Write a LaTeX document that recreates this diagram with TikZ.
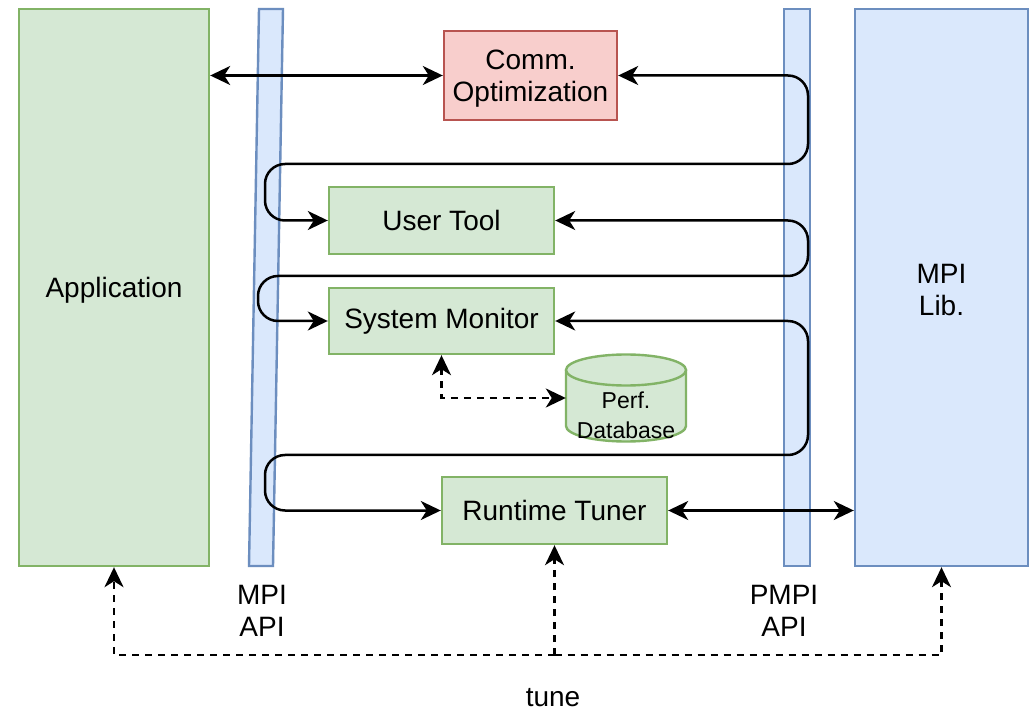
\documentclass[tikz,border=0pt]{standalone}
\usepackage{fontspec}
\setmainfont{Liberation Sans}
\usetikzlibrary{arrows.meta,calc}
\definecolor{gfill}{HTML}{D5E8D4}
\definecolor{gline}{HTML}{82B366}
\definecolor{bfill}{HTML}{DAE8FC}
\definecolor{bline}{HTML}{6C8EBF}
\definecolor{rfill}{HTML}{F8CECC}
\definecolor{rline}{HTML}{B85450}
\tikzset{
  gbox/.style={draw=gline, fill=gfill, line width=2.4pt, inner sep=0pt},
  bbox/.style={draw=bline, fill=bfill, line width=2.4pt, inner sep=0pt},
  rbox/.style={draw=rline, fill=rfill, line width=2.4pt, inner sep=0pt},
  txt/.style={font=\fontsize{28}{32}\selectfont, align=center},
  tip/.style={-{Stealth[length=20pt,width=19pt,inset=6pt]}},
  conn/.style={line width=2.5pt, {Stealth[length=20pt,width=19pt,inset=6pt]}-{Stealth[length=20pt,width=19pt,inset=6pt]}, rounded corners=20pt},
  dconn/.style={line width=2.4pt, dash pattern=on 7pt off 6pt},
}
\begin{document}
\begin{tikzpicture}[x=1pt,y=-1pt]
\useasboundingbox[fill=white] (0,0) rectangle (1029,711);
% big blocks
\node[gbox, minimum width=190pt, minimum height=557pt] (app) at (114,287.5) {};
\node[txt] (appt) at (114,290) {Application};
\node[bbox, minimum width=173pt, minimum height=557pt] (ml) at (941.5,287.5) {};
\node[txt] (mlt) at (941.5,290) {MPI\\Lib.};
\node[bbox, minimum width=26pt, minimum height=557pt] (pm) at (797,287.5) {};
% slanted MPI API bar
\draw[bline, fill=bfill, line width=2.4pt] (259,9) -- (283,9) -- (273,566) -- (249,566) -- cycle;
% inner boxes
\node[rbox, minimum width=173pt, minimum height=89pt] (co) at (530.5,75.5) {};
\node[txt] (cot) at (530.5,78.5) {Comm.\\Optimization};
\node[gbox, minimum width=225pt, minimum height=67pt, txt] (ut) at (441.5,220.5) {User Tool};
\node[gbox, minimum width=225pt, minimum height=66pt, txt] (sm) at (441.5,321) {System Monitor};
\node[gbox, minimum width=225pt, minimum height=67pt, txt] (rt) at (554.5,510.5) {Runtime Tuner};
% database cylinder
\fill[gfill] (566,370) -- (566,426) arc[start angle=180,end angle=0,x radius=60,y radius=15.5] -- (686,370) -- cycle;
\draw[gline, line width=2.4pt] (566,370) -- (566,426) arc[start angle=180,end angle=0,x radius=60,y radius=15.5] -- (686,370);
\draw[gline, fill=gfill, line width=2.4pt] (626,370) ellipse[x radius=60, y radius=15.5];
\node[txt, font=\fontsize{23}{30}\selectfont, minimum width=120pt, minimum height=56pt, inner sep=0pt] (db) at (626,415) {Perf.\\Database};
% labels
\node[txt] (l1) at (262,611) {MPI\\API};
\node[txt] (l2) at (784,611) {PMPI\\API};
\node[txt] (tn) at (553,698) {tune};
% connectors
\draw[conn] (app.east |- co.west) -- (co.west);
\draw[conn] (co.east) -- (808,75.5) -- (808,164) -- (265,164) -- (265,220.5) -- (ut.west);
\draw[conn] (ut.east) -- (808,220.5) -- (808,276) -- (258,276) -- (258,321) -- (sm.west);
\draw[conn] (sm.east) -- (808,321) -- (808,455) -- (265,455) -- (265,510.5) -- (rt.west);
\draw[conn] (rt.east) -- (ml.west |- rt.east);
\draw[dconn, {Stealth[length=20pt,width=19pt,inset=6pt]}-{Stealth[length=20pt,width=19pt,inset=6pt]}] (sm.south) |- ([yshift=17pt]db.west);
% tune
\coordinate (tj) at (554.5,655);
\draw[dconn, tip] (tj) -| (app.south);
\draw[dconn, tip] (tj) -| (ml.south);
\draw[dconn, tip] (tj) -- (rt.south);
\end{tikzpicture}
\end{document}
